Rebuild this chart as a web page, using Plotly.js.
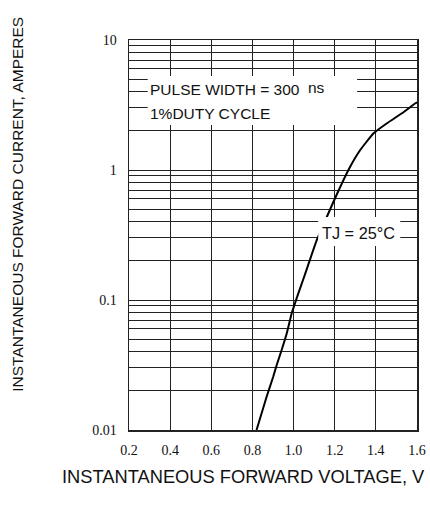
<!DOCTYPE html>
<html>
<head>
<meta charset="utf-8">
<script src="https://cdn.plot.ly/plotly-3.0.1.min.js"></script>
<style>html,body{margin:0;padding:0;background:#fff;}#chart{width:430px;height:508px;}</style>
</head>
<body>
<div id="chart"></div>
<script>
// Forward voltage (V) and forward current (A)
const voltage = [0.82, 0.869, 0.901, 0.918, 0.942, 0.967, 0.991, 1.007, 1.026, 1.046, 1.068, 1.113, 1.162, 1.194, 1.235, 1.275, 1.324, 1.389, 1.454, 1.527, 1.592, 1.60];
const current = [0.0100, 0.0180, 0.0257, 0.0316, 0.0412, 0.0554, 0.079, 0.0944, 0.116, 0.1425, 0.180, 0.290, 0.437, 0.570, 0.79, 1.06, 1.425, 1.915, 2.29, 2.73, 3.26, 3.32];

// Axis ticks
const xTickVals = [0.2, 0.4, 0.6, 0.8, 1.0, 1.2, 1.4, 1.6];
const xTickText = ['0.2', '0.4', '0.6', '0.8', '1.0', '1.2', '1.4', '1.6'];
const yGridVals = [0.01, 0.02, 0.03, 0.04, 0.05, 0.06, 0.07, 0.08, 0.09,
                   0.1, 0.2, 0.3, 0.4, 0.5, 0.6, 0.7, 0.8, 0.9,
                   1, 2, 3, 4, 5, 6, 7, 8, 9, 10];
const yLabelVals = [0.01, 0.1, 1, 10];
const yLabelText = ['0.01', '0.1', '1', '10'];

// Texts
const xTitle = 'INSTANTANEOUS FORWARD VOLTAGE, V';
const yTitle = 'INSTANTANEOUS FORWARD CURRENT, AMPERES';
const noteLine1 = 'PULSE WIDTH = 300';
const noteUnit = 'ns';
const noteLine2 = '1%DUTY CYCLE';
const tempLabel = 'TJ = 25°C';

const yTickText = yGridVals.map(v => {
  const i = yLabelVals.indexOf(v);
  return i >= 0 ? yLabelText[i] : '';
});

const sans = 'Liberation Sans, Arial, sans-serif';
const serif = 'Liberation Serif, Times New Roman, serif';

const trace = {
  x: voltage, y: current, type: 'scatter', mode: 'lines',
  line: {color: '#000', width: 2, shape: 'spline', smoothing: 0.4},
  hoverinfo: 'skip', showlegend: false
};

const layout = {
  width: 430, height: 508,
  margin: {l: 129, r: 13, t: 40, b: 78},
  paper_bgcolor: '#fff', plot_bgcolor: '#fff',
  showlegend: false,
  xaxis: {
    range: [0.2, 1.6], tickvals: xTickVals, ticktext: xTickText,
    showgrid: true, gridcolor: '#222', gridwidth: 1,
    zeroline: false, showline: true, linecolor: '#222', linewidth: 1.5, mirror: true,
    ticks: '', ticklabelstandoff: 7,
    tickfont: {family: serif, size: 14, color: '#111'}
  },
  yaxis: {
    type: 'log', range: [-2, 1], tickvals: yGridVals, ticktext: yTickText,
    showgrid: true, gridcolor: '#222', gridwidth: 1,
    zeroline: false, showline: true, linecolor: '#222', linewidth: 1.5, mirror: true,
    ticks: '', ticklabelstandoff: 8,
    tickfont: {family: serif, size: 14, color: '#111'}
  },
  shapes: [
    {type: 'rect', xref: 'paper', yref: 'paper', x0: 0.065, x1: 0.792, y0: 0.782, y1: 0.908,
     fillcolor: '#fff', line: {width: 0}, layer: 'above'},
    {type: 'rect', xref: 'paper', yref: 'paper', x0: 0.657, x1: 0.942, y0: 0.472, y1: 0.546,
     fillcolor: '#fff', line: {width: 0}, layer: 'above'}
  ],
  annotations: [
    {text: noteLine1, xref: 'paper', yref: 'paper', x: 0.066, y: 0.872, xanchor: 'left', yanchor: 'middle',
     showarrow: false, font: {family: sans, size: 15.5, color: '#111'}},
    {text: noteUnit, xref: 'paper', yref: 'paper', x: 0.615, y: 0.879, xanchor: 'left', yanchor: 'middle',
     showarrow: false, font: {family: sans, size: 15.5, color: '#111'}},
    {text: noteLine2, xref: 'paper', yref: 'paper', x: 0.066, y: 0.812, xanchor: 'left', yanchor: 'middle',
     showarrow: false, font: {family: sans, size: 15.5, color: '#111'}},
    {text: tempLabel, xref: 'paper', yref: 'paper', x: 0.664, y: 0.504, xanchor: 'left', yanchor: 'middle',
     showarrow: false, font: {family: sans, size: 16.3, color: '#111'}},
    {text: yTitle, xref: 'paper', yref: 'paper', x: -0.387, y: 0.579, xanchor: 'center', yanchor: 'middle',
     textangle: -90, showarrow: false, font: {family: sans, size: 15.5, color: '#111'}},
    {text: xTitle, xref: 'paper', yref: 'paper', x: -0.238, y: -0.1205, xanchor: 'left', yanchor: 'middle',
     showarrow: false, font: {family: sans, size: 18.3, color: '#111'}}
  ]
};

Plotly.newPlot('chart', [trace], layout, {staticPlot: true, displayModeBar: false});
</script>
</body>
</html>
